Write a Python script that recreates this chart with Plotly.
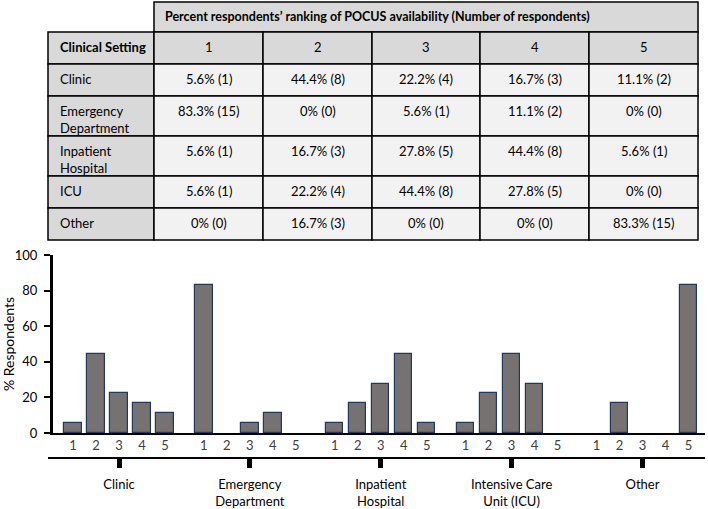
import plotly.graph_objects as go

# table / chart data
row_labels = ["Clinic", "Emergency<br>Department", "Inpatient<br>Hospital", "ICU", "Other"]
group_labels = ["Clinic", "Emergency<br>Department", "Inpatient<br>Hospital",
                "Intensive Care<br>Unit (ICU)", "Other"]
ranks = [1, 2, 3, 4, 5]
percents = [
    [5.6, 44.4, 22.2, 16.7, 11.1],
    [83.3, 0, 5.6, 11.1, 0],
    [5.6, 16.7, 27.8, 44.4, 5.6],
    [5.6, 22.2, 44.4, 27.8, 0],
    [0, 16.7, 0, 0, 83.3],
]
counts = [
    [1, 8, 4, 3, 2],
    [15, 0, 1, 2, 0],
    [1, 3, 5, 8, 1],
    [1, 4, 8, 5, 0],
    [0, 3, 0, 0, 15],
]
header_title = "Percent respondents’ ranking of POCUS availability (Number of respondents)"
first_col_title = "Clinical Setting"

W, H = 708, 509
FONT = "Lato"
HEAD_GRAY = "#d9d9d9"
CELL_GRAY = "#f2f2f2"


def fx(p):
    return p / W


def fy(p):
    return 1 - p / H


# bar positions: 5 slots per group plus a gap
GROUP = 5.69
xs, ys, tick_text = [], [], []
for g, row in enumerate(percents):
    for r, val in zip(ranks, row):
        xs.append(g * GROUP + (r - 1))
        ys.append(val)
        tick_text.append(str(r))
group_centers = [g * GROUP + 2 for g in range(len(group_labels))]

# pixel -> data mapping for the x axes (first bar centre at 73px, 23px per slot)
X0, U = 73, 23


def xr(left, right):
    return [(left - X0) / U, (right - X0) / U]


fig = go.Figure()
fig.add_trace(go.Bar(
    x=xs, y=ys, width=0.76,
    marker=dict(color="#777272",
                line=dict(color="#23385c", width=[1.2 if v > 0 else 0 for v in ys])),
    hoverinfo="x+y", showlegend=False,
))
fig.add_trace(go.Scatter(
    x=group_centers, y=[0] * len(group_centers), xaxis="x2", yaxis="y",
    mode="markers", marker=dict(opacity=0), hoverinfo="skip", showlegend=False,
))

# ---- table drawn with shapes + annotations
col_edges = [48, 154, 263, 372, 480, 589, 698]
row_edges = [2, 32, 64, 96, 136, 176, 208, 240]
shapes, annos = [], []


def cell(x0, x1, y0, y1, fill):
    shapes.append(dict(type="rect", xref="paper", yref="paper",
                       x0=fx(x0), x1=fx(x1), y0=fy(y1), y1=fy(y0),
                       fillcolor=fill, line=dict(color="black", width=1.5), layer="below"))


def text(x, y, s, bold=False, align="center", size=13):
    annos.append(dict(xref="paper", yref="paper", x=fx(x), y=fy(y), text=f"<b>{s}</b>" if bold else s,
                      showarrow=False, xanchor=align, yanchor="top", align=align,
                      font=dict(family=FONT, size=size, color="black")))


cell(col_edges[1], col_edges[-1], row_edges[0], row_edges[1], HEAD_GRAY)
text(163, row_edges[0] + 5, header_title, bold=True, align="left", size=12.5)
cell(col_edges[0], col_edges[1], row_edges[1], row_edges[2], HEAD_GRAY)
text(58, row_edges[1] + 5, first_col_title, bold=True, align="left")
for j, r in enumerate(ranks):
    cell(col_edges[j + 1], col_edges[j + 2], row_edges[1], row_edges[2], HEAD_GRAY)
    text((col_edges[j + 1] + col_edges[j + 2]) / 2, row_edges[1] + 5, str(r))
for i, lab in enumerate(row_labels):
    top, bot = row_edges[i + 2], row_edges[i + 3]
    cell(col_edges[0], col_edges[1], top, bot, HEAD_GRAY)
    text(58, top + 5, lab, align="left")
    for j in range(len(ranks)):
        cell(col_edges[j + 1], col_edges[j + 2], top, bot, CELL_GRAY)
        text((col_edges[j + 1] + col_edges[j + 2]) / 2, top + 5,
             f"{percents[i][j]:g}% ({counts[i][j]})")

fig.update_layout(
    width=W, height=H,
    margin=dict(l=0, r=0, t=0, b=0, autoexpand=False),
    paper_bgcolor="white", plot_bgcolor="rgba(0,0,0,0)",
    font=dict(family=FONT, color="black"),
    shapes=shapes, annotations=annos,
    bargap=0,
    xaxis=dict(
        domain=[fx(53), fx(705)], range=xr(53, 705), automargin=False,
        tickvals=xs, ticktext=tick_text, ticks="",
        tickfont=dict(size=13, color="#404040"),
        showline=True, linecolor="black", linewidth=1.5,
        showgrid=False, zeroline=False, fixedrange=True,
    ),
    xaxis2=dict(
        domain=[fx(48), fx(705)], range=xr(48, 705), automargin=False,
        anchor="free", position=fy(458), side="bottom",
        tickvals=group_centers, ticktext=group_labels,
        ticks="outside", ticklen=9, tickwidth=5, tickcolor="black",
        ticklabelstandoff=6,
        tickfont=dict(size=13, color="black"),
        showline=True, linecolor="black", linewidth=1.5,
        showgrid=False, zeroline=False, fixedrange=True,
    ),
    yaxis=dict(
        domain=[fy(433), fy(255)], range=[0, 100], automargin=False,
        tickvals=[0, 20, 40, 60, 80, 100],
        ticks="outside", ticklen=6, tickwidth=2, tickcolor="black",
        ticklabelstandoff=4,
        tickfont=dict(size=13, color="black"),
        showline=True, linecolor="black", linewidth=3,
        showgrid=False, zeroline=False, fixedrange=True,
        title=dict(text="% Respondents", font=dict(size=14), standoff=4),
    ),
)

fig.write_html("out.html", config={"displayModeBar": False},
               post_script="document.body.style.margin='0px';")
